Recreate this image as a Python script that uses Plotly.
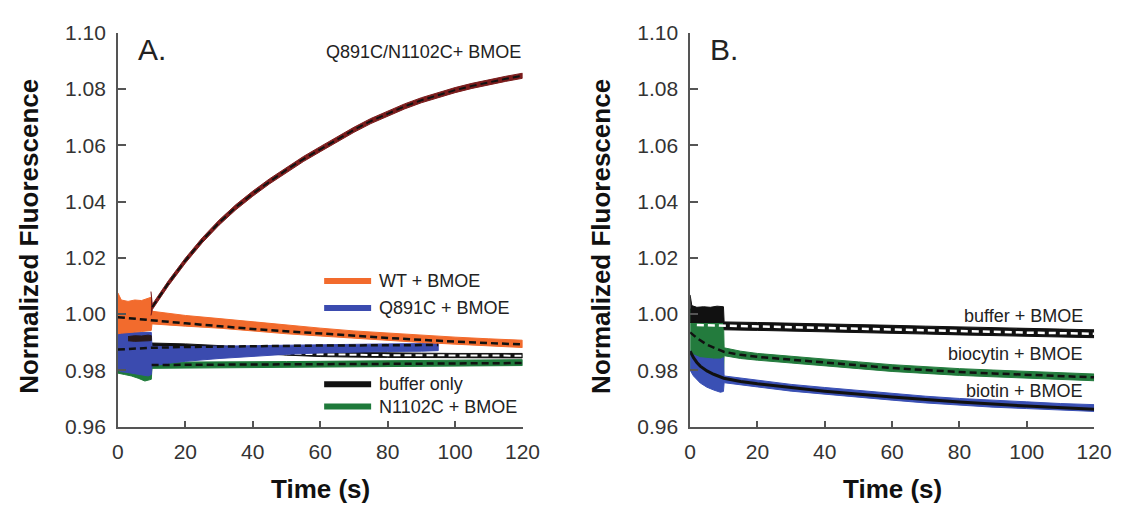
import plotly.graph_objects as go

# ---------------- Panel A data (time in s, normalized fluorescence) ----------------
dimer_t  = [9.8, 10.2, 15, 20, 25, 30, 35, 40, 45, 50, 55, 60, 65, 70, 75, 80, 85, 90, 95, 100, 105, 110, 115, 120]
dimer_up = [1.0080, 1.0034, 1.0119, 1.0199, 1.0271, 1.0334, 1.0389, 1.0437, 1.0481, 1.0522, 1.0560, 1.0595,
            1.0631, 1.0664, 1.0695, 1.0722, 1.0747, 1.0769, 1.0788, 1.0805, 1.0820, 1.0833, 1.0845, 1.0856]
dimer_lo = [0.9995, 1.0016, 1.0101, 1.0181, 1.0253, 1.0316, 1.0371, 1.0419, 1.0463, 1.0504, 1.0542, 1.0577,
            1.0613, 1.0646, 1.0677, 1.0704, 1.0729, 1.0751, 1.0770, 1.0787, 1.0802, 1.0815, 1.0827, 1.0838]
dimer_fit_t = [10.2, 15, 20, 25, 30, 35, 40, 45, 50, 55, 60, 65, 70, 75, 80, 85, 90, 95, 100, 105, 110, 115, 120]
dimer_fit   = [1.0025, 1.0110, 1.0190, 1.0262, 1.0325, 1.0380, 1.0428, 1.0472, 1.0513, 1.0551, 1.0586, 1.0622,
               1.0655, 1.0686, 1.0713, 1.0738, 1.0760, 1.0779, 1.0796, 1.0811, 1.0824, 1.0836, 1.0847]

wt_t  = [0, 1, 3, 5, 7, 9, 9.9, 10.1, 15, 20, 30, 40, 50, 60, 70, 80, 90, 100, 110, 120]
wt_up = [1.0075, 1.0050, 1.0045, 1.0050, 1.0048, 1.0055, 1.0060, 1.0010, 1.0003, 0.9995, 0.9984, 0.9972,
         0.9960, 0.9950, 0.9940, 0.9932, 0.9925, 0.9918, 0.9912, 0.9907]
wt_lo = [0.9930, 0.9932, 0.9935, 0.9936, 0.9938, 0.9940, 0.9942, 0.9965, 0.9962, 0.9957, 0.9950, 0.9940,
         0.9930, 0.9922, 0.9914, 0.9906, 0.9899, 0.9893, 0.9886, 0.9881]
wt_fit_t = [0, 10, 20, 40, 60, 80, 100, 120]
wt_fit   = [0.9989, 0.9977, 0.9967, 0.9947, 0.9930, 0.9915, 0.9902, 0.9892]

q_t  = [0, 1, 3, 5, 7, 9, 9.9, 10.1, 15, 20, 30, 40, 50, 60, 70, 80, 90, 95]
q_up = [0.9950, 0.9935, 0.9935, 0.9935, 0.9935, 0.9935, 0.9935, 0.9885, 0.9884, 0.9884, 0.9886, 0.9888,
        0.9890, 0.9892, 0.9893, 0.9894, 0.9895, 0.9895]
q_lo = [0.9800, 0.9795, 0.9792, 0.9788, 0.9785, 0.9780, 0.9785, 0.9815, 0.9825, 0.9832, 0.9842, 0.9850,
        0.9857, 0.9862, 0.9865, 0.9867, 0.9868, 0.9870]
q_fit_t = [0, 10, 20, 40, 60, 80, 95]
q_fit   = [0.9874, 0.9880, 0.9883, 0.9886, 0.9888, 0.9889, 0.9890]

buf_pre_t  = [3, 5, 7, 9, 9.9]
buf_pre_up = [0.9920, 0.9923, 0.9922, 0.9925, 0.9923]
buf_pre_lo = [0.9905, 0.9903, 0.9904, 0.9905, 0.9906]
buf_t  = [10.1, 15, 20, 30, 40, 50, 60, 70, 80, 90, 100, 110, 120]
buf_up = [0.9897, 0.9896, 0.9894, 0.9888, 0.9880, 0.9870, 0.9865, 0.9863, 0.9862, 0.9861, 0.9860, 0.9860, 0.9860]
buf_lo = [0.9881, 0.9880, 0.9878, 0.9872, 0.9864, 0.9854, 0.9849, 0.9847, 0.9846, 0.9845, 0.9844, 0.9844, 0.9844]
buf_fit_t = [10, 20, 30, 40, 50, 60, 80, 100, 120]
buf_fit   = [0.9880, 0.9876, 0.9872, 0.9866, 0.9860, 0.9857, 0.9854, 0.9852, 0.9852]

n_t  = [0, 2, 4, 6, 8, 9.9, 10.1, 15, 20, 30, 40, 50, 60, 70, 80, 90, 100, 110, 120]
n_up = [0.9860, 0.9855, 0.9850, 0.9850, 0.9850, 0.9850, 0.9829, 0.9829, 0.9829, 0.9830, 0.9830, 0.9831,
        0.9832, 0.9833, 0.9834, 0.9835, 0.9836, 0.9837, 0.9838]
n_lo = [0.9790, 0.9785, 0.9780, 0.9772, 0.9762, 0.9768, 0.9807, 0.9807, 0.9807, 0.9808, 0.9809, 0.9810,
        0.9811, 0.9812, 0.9813, 0.9814, 0.9815, 0.9816, 0.9817]
n_fit_t = [10, 40, 80, 120]
n_fit   = [0.9819, 0.9820, 0.9823, 0.9826]

# ---------------- Panel B data ----------------
bb_t  = [0, 0.5, 2, 4, 6, 8, 9.9, 10.1, 20, 30, 40, 50, 60, 70, 80, 90, 100, 110, 120]
bb_up = [1.0068, 1.0030, 1.0024, 1.0026, 1.0024, 1.0028, 1.0026, 0.9972, 0.9970, 0.9968, 0.9966, 0.9963,
         0.9960, 0.9957, 0.9954, 0.9951, 0.9948, 0.9946, 0.9944]
bb_lo = [0.9970, 0.9970, 0.9970, 0.9970, 0.9970, 0.9970, 0.9970, 0.9944, 0.9942, 0.9940, 0.9938, 0.9935,
         0.9932, 0.9929, 0.9926, 0.9923, 0.9920, 0.9918, 0.9916]
bb_fit_t = [2, 10, 20, 40, 60, 80, 100, 120]
bb_fit   = [0.9961, 0.9959, 0.9956, 0.9952, 0.9946, 0.9940, 0.9934, 0.9930]

bc_t  = [0, 1, 3, 6, 9.9, 10.1, 15, 20, 30, 40, 50, 60, 70, 80, 90, 100, 110, 120]
bc_up = [1.0020, 1.0000, 0.9990, 0.9985, 0.9985, 0.9880, 0.9868, 0.9860, 0.9850, 0.9841, 0.9830, 0.9820,
         0.9812, 0.9806, 0.9801, 0.9796, 0.9791, 0.9787]
bc_lo = [0.9800, 0.9795, 0.9790, 0.9785, 0.9785, 0.9852, 0.9842, 0.9836, 0.9826, 0.9817, 0.9806, 0.9796,
         0.9788, 0.9782, 0.9777, 0.9772, 0.9767, 0.9763]
bc_fit_t = [0, 2, 5, 8, 10, 15, 20, 30, 40, 50, 60, 70, 80, 90, 100, 110, 120]
bc_fit   = [0.9935, 0.9915, 0.9891, 0.9875, 0.9866, 0.9855, 0.9848, 0.9838, 0.9829, 0.9818, 0.9808, 0.9800,
            0.9794, 0.9789, 0.9784, 0.9779, 0.9775]

bt_t  = [0, 1, 3, 5, 7, 9, 9.9, 10.1, 15, 20, 30, 40, 50, 60, 70, 80, 90, 100, 110, 120]
bt_up = [0.9870, 0.9855, 0.9845, 0.9842, 0.9840, 0.9840, 0.9845, 0.9780, 0.9772, 0.9765, 0.9750, 0.9739,
         0.9728, 0.9718, 0.9708, 0.9700, 0.9693, 0.9688, 0.9682, 0.9678]
bt_lo = [0.9800, 0.9780, 0.9755, 0.9740, 0.9730, 0.9722, 0.9725, 0.9756, 0.9748, 0.9741, 0.9726, 0.9715,
         0.9704, 0.9694, 0.9684, 0.9676, 0.9669, 0.9664, 0.9658, 0.9654]
bt_fit_t = [0, 1, 2, 3, 5, 7, 10, 15, 20, 30, 40, 60, 80, 100, 120]
bt_fit   = [0.9868, 0.9845, 0.9828, 0.9815, 0.9798, 0.9786, 0.9772, 0.9760, 0.9752, 0.9738, 0.9726, 0.9705,
            0.9687, 0.9673, 0.9662]

legendA_labels = ["WT + BMOE", "Q891C + BMOE", "buffer only", "N1102C + BMOE"]
labelsB = ["buffer + BMOE", "biocytin + BMOE", "biotin + BMOE"]

# ---------------- styles ----------------
ORANGE = "#F26B2D"
BLUE_A = "#3B4BAF"
GREEN = "#1F7A3B"
DARKRED = "#7A1C1C"
BLACK = "#111111"
BLUE_B = "#3A50B4"
GREEN_B = "#237B3D"

FONT = "Liberation Sans, Arial, sans-serif"

fig = go.Figure()


def band(t, up, lo, color, xa="x", ya="y"):
    fig.add_trace(go.Scatter(
        x=list(t) + list(t)[::-1], y=list(up) + list(lo)[::-1],
        fill="toself", fillcolor=color, mode="lines",
        line=dict(color=color, width=1), xaxis=xa, yaxis=ya,
        hoverinfo="skip", showlegend=False))


def fit(t, y, color, dash, width=2.5, xa="x", ya="y"):
    fig.add_trace(go.Scatter(
        x=t, y=y, mode="lines", line=dict(color=color, width=width, dash=dash),
        xaxis=xa, yaxis=ya, hoverinfo="skip", showlegend=False))


DASH = "7px,4px"

# Panel A
band(n_t, n_up, n_lo, GREEN)
band(buf_t, buf_up, buf_lo, BLACK)
fit(buf_fit_t, buf_fit, "white", DASH, 2)
band(q_t, q_up, q_lo, BLUE_A)
band(buf_pre_t, buf_pre_up, buf_pre_lo, "#2a1a1a")
band(wt_t, wt_up, wt_lo, ORANGE)
band(dimer_t, dimer_up, dimer_lo, DARKRED)
fit(n_fit_t, n_fit, BLACK, DASH)
fit(q_fit_t, q_fit, BLACK, DASH)
fit(wt_fit_t, wt_fit, BLACK, DASH)
fit(dimer_fit_t, dimer_fit, BLACK, DASH, 2)

# Panel B
band(bc_t, bc_up, bc_lo, GREEN_B, "x2", "y2")
band(bt_t, bt_up, bt_lo, BLUE_B, "x2", "y2")
band(bb_t, bb_up, bb_lo, BLACK, "x2", "y2")
fit(bb_fit_t, bb_fit, "white", DASH, 2.5, "x2", "y2")
fit(bc_fit_t, bc_fit, BLACK, DASH, 2.5, "x2", "y2")
fit(bt_fit_t, bt_fit, BLACK, "solid", 3, "x2", "y2")

axis_common = dict(
    showline=True, linecolor="#555555", linewidth=1.5, ticks="inside",
    tickcolor="#555555", tickwidth=1.5, showgrid=False, zeroline=False,
    tickfont=dict(family=FONT, size=21, color="#333333"), mirror=False,
)
xcommon = dict(axis_common, range=[0, 120], tick0=0, dtick=20, ticklen=6, ticklabelstandoff=5)
ycommon = dict(axis_common, range=[0.96, 1.10], tick0=0.96, dtick=0.02, tickformat=".2f",
               ticklen=8, ticklabelstandoff=6)

ydom = [0.1434, 0.9572]
fig.update_layout(
    width=1131, height=507, autosize=False,
    margin=dict(l=0, r=0, t=0, b=0),
    paper_bgcolor="white", plot_bgcolor="white",
    xaxis=dict(xcommon, domain=[0.1011, 0.4666], anchor="y"),
    yaxis=dict(ycommon, domain=ydom, anchor="x"),
    xaxis2=dict(xcommon, domain=[0.6180, 0.9829], anchor="y2"),
    yaxis2=dict(ycommon, domain=ydom, anchor="x2"),
    showlegend=False,
)

ann = []
shapes = []
# axis titles
for xp in (0.0212, 0.5380):
    ann.append(dict(text="Normalized Fluorescence", xref="paper", yref="paper", x=xp, y=0.5365,
                    textangle=-90, showarrow=False, xanchor="center", yanchor="middle",
                    font=dict(family=FONT, size=26, color="#111111", weight="bold")))
for xp in (0.2838, 0.8005):
    ann.append(dict(text="Time (s)", xref="paper", yref="paper", x=xp, y=0.014,
                    showarrow=False, xanchor="center", yanchor="middle",
                    font=dict(family=FONT, size=26, color="#111111", weight="bold")))
# panel letters
ann.append(dict(text="A.", xref="x domain", yref="y domain", x=0.045, y=0.958, showarrow=False,
                xanchor="left", yanchor="middle", font=dict(family=FONT, size=30, color="#222222")))
ann.append(dict(text="B.", xref="x2 domain", yref="y2 domain", x=0.045, y=0.958, showarrow=False,
                xanchor="left", yanchor="middle", font=dict(family=FONT, size=30, color="#222222")))
ann.append(dict(text="Q891C/N1102C+ BMOE", xref="x domain", yref="y domain", x=1.0, y=0.9515,
                showarrow=False, xanchor="right", yanchor="middle",
                font=dict(family=FONT, size=18, color="#222222")))

# Panel A legend
leg_y = [0.3698, 0.3012, 0.1074, 0.0509]
leg_col = [ORANGE, BLUE_A, BLACK, GREEN]
for lab, yy, col in zip(legendA_labels, leg_y, leg_col):
    shapes.append(dict(type="line", xref="x domain", yref="y domain", x0=0.5097, x1=0.6258,
                       y0=yy, y1=yy, line=dict(color=col, width=6)))
    ann.append(dict(text=lab, xref="x domain", yref="y domain", x=0.640, y=yy, showarrow=False,
                    xanchor="left", yanchor="middle", font=dict(family=FONT, size=18, color="#222222")))

# Panel B labels
for lab, yy in zip(labelsB, [0.2811, 0.1842, 0.0911]):
    ann.append(dict(text=lab, xref="x2 domain", yref="y2 domain", x=0.978, y=yy, showarrow=False,
                    xanchor="right", yanchor="middle", font=dict(family=FONT, size=18, color="#222222")))

fig.update_layout(annotations=ann, shapes=shapes)
fig.write_html("out.html")
